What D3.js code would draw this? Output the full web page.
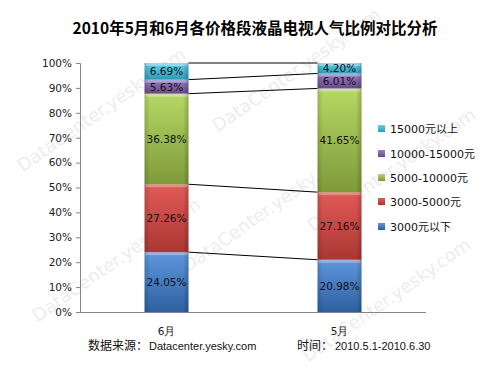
<!DOCTYPE html>
<html>
<head>
<meta charset="utf-8">
<script src="https://cdn.jsdelivr.net/npm/d3@7"></script>
<style>
  html, body { margin: 0; padding: 0; background: #fff; }
  svg { display: block; }
  .tick text { font-family: "DejaVu Sans", sans-serif; font-size: 10.5px; fill: #222; }
</style>
</head>
<body>
<div id="chart"></div>
<script>
// chart data
var categories = ["6月", "5月"];
var seriesNames = ["3000元以下", "3000-5000元", "5000-10000元", "10000-15000元", "15000元以上"];
var under3000 = [24.05, 20.98];
var from3000to5000 = [27.26, 27.16];
var from5000to10000 = [36.38, 41.65];
var from10000to15000 = [5.63, 6.01];
var over15000 = [6.69, 4.20];
var yTicks = [0, 10, 20, 30, 40, 50, 60, 70, 80, 90, 100];

// colours: [top, bottom] of each segment's shading
var colours = [
  ["#5e97de", "#2f609f"],
  ["#e25a56", "#a93733"],
  ["#b6d864", "#7e9a3a"],
  ["#9c7cc6", "#664a89"],
  ["#5fd2ec", "#2c9cb7"]
];

var width = 500, height = 375;
var plot = { left: 80, right: 426, top: 63, bottom: 312 };

var svg = d3.select("#chart").append("svg")
  .attr("width", width)
  .attr("height", height);

// build table for d3.stack
var seriesValues = [under3000, from3000to5000, from5000to10000, from10000to15000, over15000];
var table = categories.map(function (c, i) {
  var row = { cat: c };
  seriesNames.forEach(function (s, j) { row[s] = seriesValues[j][i]; });
  return row;
});
var stacked = d3.stack().keys(seriesNames)(table);

var x = d3.scaleBand()
  .domain(categories)
  .range([plot.left, plot.right])
  .paddingInner(0.746)
  .paddingOuter(0.373);

var y = d3.scaleLinear()
  .domain([0, 100])
  .range([plot.bottom, plot.top]);

// gradients
var defs = svg.append("defs");
colours.forEach(function (c, i) {
  var g = defs.append("linearGradient")
    .attr("id", "grad" + i)
    .attr("x1", 0).attr("y1", 0).attr("x2", 0).attr("y2", 1);
  g.append("stop").attr("offset", "0%").attr("stop-color", c[0]);
  g.append("stop").attr("offset", "100%").attr("stop-color", c[1]);
  var h = defs.append("linearGradient")
    .attr("id", "side" + i)
    .attr("x1", 0).attr("y1", 0).attr("x2", 1).attr("y2", 0);
  h.append("stop").attr("offset", "0%").attr("stop-color", "#000").attr("stop-opacity", 0.15);
  h.append("stop").attr("offset", "12%").attr("stop-color", "#000").attr("stop-opacity", 0);
  h.append("stop").attr("offset", "88%").attr("stop-color", "#000").attr("stop-opacity", 0);
  h.append("stop").attr("offset", "100%").attr("stop-color", "#000").attr("stop-opacity", 0.2);
});

// watermark, kept faint and inside the frame
var wmSpots = [[105, 115], [300, 75], [395, 175], [120, 265], [270, 215], [390, 305]];
svg.append("g").attr("class", "watermark")
  .selectAll("text")
  .data(wmSpots)
  .enter().append("text")
  .attr("transform", function (d) { return "translate(" + d[0] + "," + d[1] + ") rotate(-35)"; })
  .attr("text-anchor", "middle")
  .attr("font-family", "DejaVu Sans, sans-serif")
  .attr("font-size", 18)
  .attr("fill", "#ededed")
  .text("DataCenter.yesky.com");

// title
svg.append("text")
  .attr("x", 255)
  .attr("y", 34)
  .attr("text-anchor", "middle")
  .attr("font-family", "Noto Sans CJK SC, sans-serif")
  .attr("font-weight", "bold")
  .attr("font-size", 15.5)
  .attr("fill", "#000")
  .text("2010年5月和6月各价格段液晶电视人气比例对比分析");

// y axis
var yAxis = svg.append("g")
  .attr("transform", "translate(" + plot.left + ",0)")
  .call(d3.axisLeft(y).tickValues(yTicks).tickSize(4).tickPadding(4)
    .tickFormat(function (d) { return d + "%"; }));
yAxis.selectAll("path, line").attr("stroke", "#868686");

// x axis
var xAxis = svg.append("g")
  .attr("transform", "translate(0," + plot.bottom + ")")
  .call(d3.axisBottom(x).tickSize(0).tickPadding(16));
xAxis.select(".domain").attr("stroke", "#868686").attr("d", "M" + plot.left + ",0.5H" + plot.right);
xAxis.selectAll(".tick text").attr("font-family", "Noto Sans CJK SC, sans-serif").attr("font-size", 11);

// series lines between bars
var bounds = [];
stacked.forEach(function (s) { bounds.push([s[0][1], s[1][1]]); });
svg.append("g").selectAll("line")
  .data(bounds)
  .enter().append("line")
  .attr("x1", x(categories[0]) + x.bandwidth())
  .attr("x2", x(categories[1]))
  .attr("y1", function (d) { return y(Math.min(d[0], 100)); })
  .attr("y2", function (d) { return y(Math.min(d[1], 100)); })
  .attr("stroke", "#000")
  .attr("stroke-width", 1);

// bars
var layer = svg.selectAll(".layer")
  .data(stacked)
  .enter().append("g")
  .attr("class", "layer");

layer.each(function (s, i) {
  var g = d3.select(this);
  s.forEach(function (d) {
    var x0 = x(d.data.cat);
    var yTop = y(Math.min(d[1], 100));
    var yBot = y(d[0]);
    var h = yBot - yTop;
    g.append("rect")
      .attr("x", x0).attr("y", yTop)
      .attr("width", x.bandwidth()).attr("height", h)
      .attr("fill", "url(#grad" + i + ")");
    g.append("rect")
      .attr("x", x0).attr("y", yTop)
      .attr("width", x.bandwidth()).attr("height", h)
      .attr("fill", "url(#side" + i + ")");
    // bevel highlight on top
    g.append("rect")
      .attr("x", x0 + 1).attr("y", yTop)
      .attr("width", x.bandwidth() - 2).attr("height", 3)
      .attr("fill", "#fff").attr("fill-opacity", 0.3);
    g.append("text")
      .attr("x", x0 + x.bandwidth() / 2)
      .attr("y", (yTop + yBot) / 2 + 4)
      .attr("text-anchor", "middle")
      .attr("font-family", "DejaVu Sans, sans-serif")
      .attr("font-size", 10.5)
      .attr("fill", "#111")
      .text(d3.format(".2f")(d[1] - d[0]) + "%");
  });
});

// legend
var legendY = [227, 202, 178, 154, 129];
var legend = svg.append("g");
seriesNames.forEach(function (s, i) {
  legend.append("rect")
    .attr("x", 378).attr("y", legendY[i] - 4)
    .attr("width", 7).attr("height", 7)
    .attr("fill", "url(#grad" + i + ")");
  legend.append("text")
    .attr("x", 390).attr("y", legendY[i] + 4)
    .attr("font-family", "DejaVu Sans, Noto Sans CJK SC, sans-serif")
    .attr("font-size", 11)
    .attr("fill", "#111")
    .text(s);
});

// source note
var note = svg.append("g")
  .attr("font-size", 11)
  .attr("fill", "#111");
note.append("text")
  .attr("x", 88).attr("y", 350)
  .attr("font-family", "Noto Sans CJK SC, sans-serif")
  .attr("font-size", 12)
  .text("数据来源：");
note.append("text")
  .attr("x", 149).attr("y", 350)
  .attr("font-family", "Liberation Sans, sans-serif")
  .text("Datacenter.yesky.com");
note.append("text")
  .attr("x", 297).attr("y", 350)
  .attr("font-family", "Noto Sans CJK SC, sans-serif")
  .attr("font-size", 12)
  .text("时间：");
note.append("text")
  .attr("x", 335).attr("y", 350)
  .attr("font-family", "Liberation Sans, sans-serif")
  .text("2010.5.1-2010.6.30");
</script>
</body>
</html>
